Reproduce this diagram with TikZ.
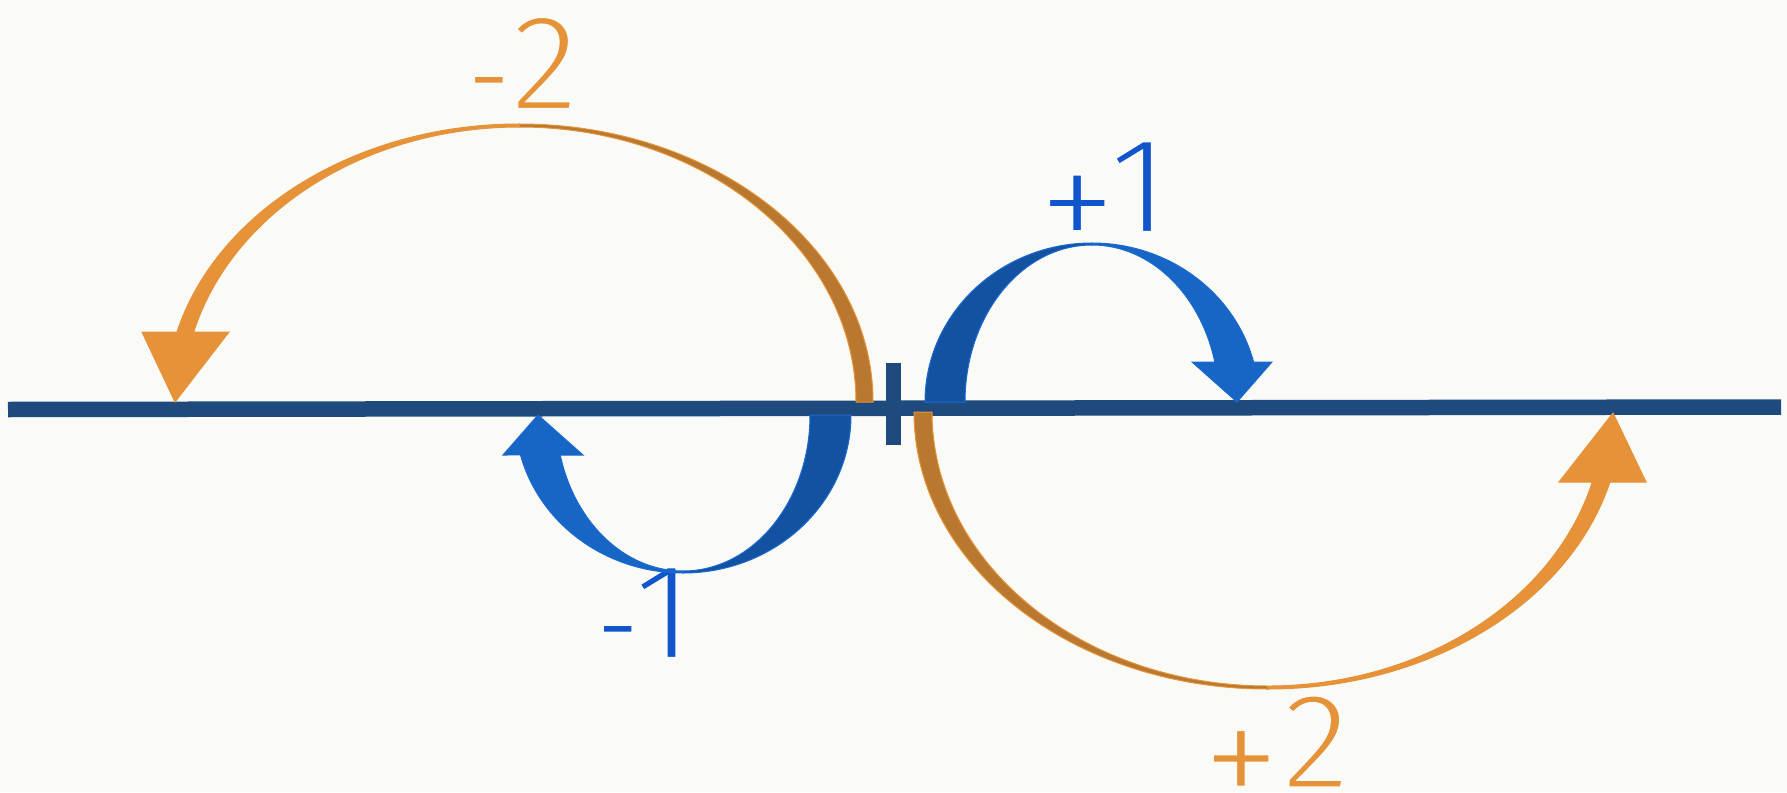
\documentclass[tikz,border=0pt]{standalone}
\usepackage{fontspec}
\usepackage{graphicx}
\newfontfamily\lbl{Fira Sans}
\definecolor{bg}{HTML}{FAFAF6}
\definecolor{axis}{HTML}{1F4A7E}
\definecolor{bluedark}{HTML}{1252A0}
\definecolor{bluelight}{HTML}{1766C5}
\definecolor{blueedge}{HTML}{1B6AD0}
\definecolor{bluetext}{HTML}{1155CC}
\definecolor{orlight}{HTML}{E69239}
\definecolor{ordark}{HTML}{B8782F}
% thin the glyphs by stroking their outlines in the background colour
\newcommand\thinon{\special{pdf:literal direct 2 Tr 2.6 w 0.980 0.980 0.965 RG}}
\newcommand\thinoff{\special{pdf:literal direct 0 Tr}}
\newcommand\thintext[1]{\thinon#1\thinoff}
\newcommand\lowminus{\raisebox{-6.5pt}{\scalebox{0.8}[1]{\thintext{-}}}}
\newcommand\lowplus{\raisebox{-11.4pt}{\scalebox{1.15}{\thintext{+}}}}
\tikzset{
  lab/.style={inner sep=0pt, anchor=base, font=\lbl\fontsize{70}{75}\selectfont}
}
\begin{document}
\begin{tikzpicture}[x=0.5pt,y=-0.5pt]
\fill[bg] (0,0) rectangle (1787,792);
\useasboundingbox (0,0) rectangle (1787,792);
% labels (drawn first so that the arrows lie over them)
\node[lab, text=orlight] (lm2) at (523,110.5) {\lowminus\kern-0.5pt\thintext{2}};
\node[lab, text=bluetext] (lp1) at (1102.9,233.5) {\lowplus\kern-4.6pt\thintext{1}};
\node[lab, text=bluetext] (lm1) at (644.25,659.5) {\lowminus\kern-3.75pt\thintext{1}};
\node[lab, text=orlight] (lp2) at (1275.9,789) {\lowplus\kern0.2pt\thintext{2}};
% axis and tick
\draw[axis, line width=7.75pt] (8,409.5) -- (1781,407);
\fill[axis] (886,363) rectangle (901,445);
% +1 arrow (blue, above)
\path[fill=bluedark, draw=blueedge, line width=0.5pt]
  (925,402) arc[start angle=180, end angle=270, x radius=167, y radius=159]
  -- (1092,245) arc[start angle=270, end angle=180, x radius=127, y radius=157] -- cycle;
\path[fill=bluelight, draw=blueedge, line width=0.5pt]
  (1092,243) arc[start angle=270, end angle=345.43, x radius=167, y radius=159]
  -- (1272,362) -- (1237,402) -- (1192,362) -- (1214.8,362)
  arc[start angle=345.24, end angle=270, x radius=127, y radius=157] -- cycle;
% -1 arrow (blue, below)
\path[fill=bluedark, draw=blueedge, line width=0.5pt]
  (851,415) arc[start angle=0, end angle=90, x radius=168, y radius=158]
  -- (683,571) arc[start angle=90, end angle=0, x radius=127, y radius=156] -- cycle;
\path[fill=bluelight, draw=blueedge, line width=0.5pt]
  (683,573) arc[start angle=90, end angle=165.34, x radius=168, y radius=158]
  -- (503,455) -- (538,415) -- (583,455) -- (560.2,455)
  arc[start angle=165.14, end angle=90, x radius=127, y radius=156] -- cycle;
% -2 arrow (orange, above)
\path[fill=ordark, draw=orlight, line width=0.5pt]
  (873,402) arc[start angle=0, end angle=-90, x radius=353.7, y radius=278]
  -- (519.3,127) arc[start angle=-90, end angle=0, x radius=336.7, y radius=275] -- cycle;
\path[fill=orlight, draw=orlight, line width=0.5pt]
  (519.3,124) arc[start angle=270, end angle=194.58, x radius=353.7, y radius=278]
  -- (142,332) -- (175,402) -- (229,332) -- (193.7,332)
  arc[start angle=194.75, end angle=270, x radius=336.7, y radius=275] -- cycle;
% +2 arrow (orange, below)
\path[fill=ordark, draw=orlight, line width=0.5pt]
  (914,412) arc[start angle=180, end angle=90, x radius=353.7, y radius=277]
  -- (1267.7,686) arc[start angle=90, end angle=180, x radius=335.7, y radius=274] -- cycle;
\path[fill=orlight, draw=orlight, line width=0.5pt]
  (1267.7,689) arc[start angle=90, end angle=14.64, x radius=353.7, y radius=277]
  -- (1646,482) -- (1613,413) -- (1559,482) -- (1592.3,482)
  arc[start angle=14.80, end angle=90, x radius=335.7, y radius=274] -- cycle;
\end{tikzpicture}
\end{document}
